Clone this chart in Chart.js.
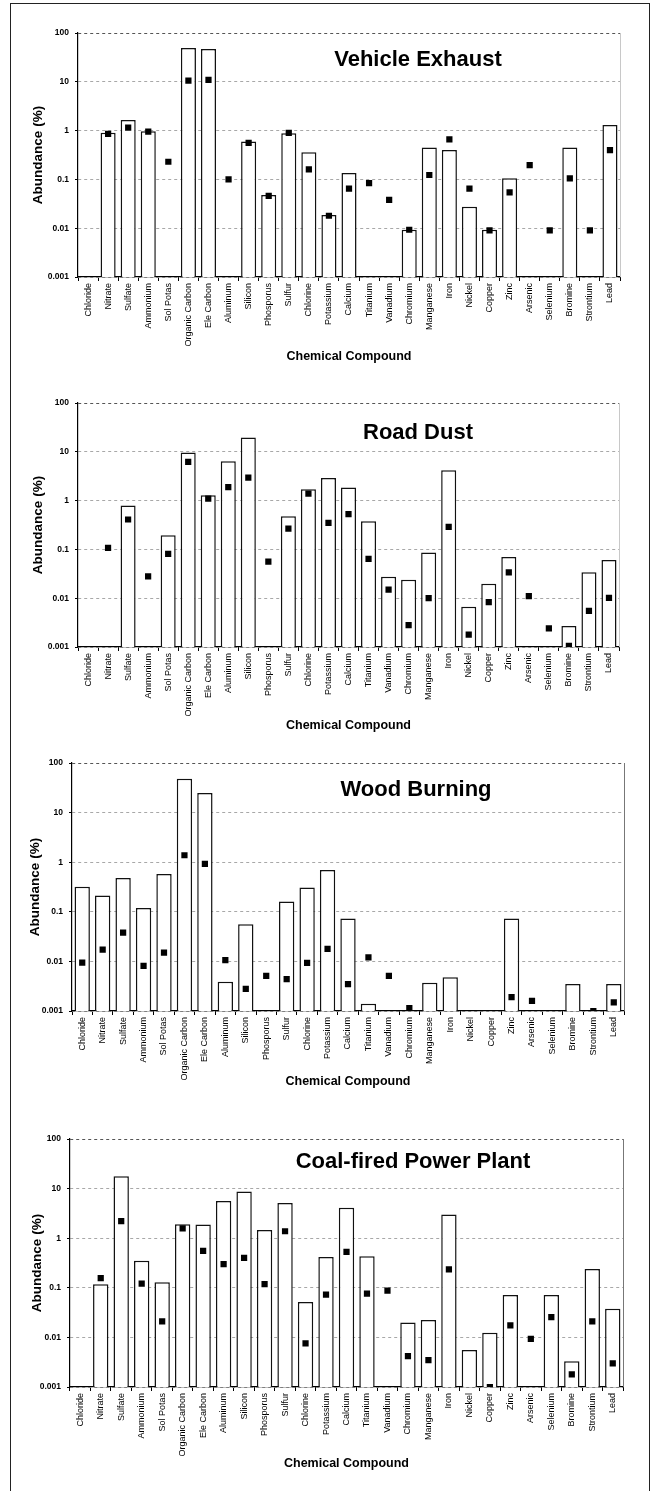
<!DOCTYPE html>
<html><head><meta charset="utf-8">
<script src="https://cdn.jsdelivr.net/npm/chart.js@4/dist/chart.umd.min.js"></script>
<style>
html,body{margin:0;padding:0;background:#fff;}
#wrap{position:relative;width:654px;height:1491px;overflow:hidden;background:#fff;}
#frame{position:absolute;left:10px;top:3px;width:638px;height:1500px;border:1.5px solid #222;border-bottom:none;}
canvas{position:absolute;left:0;}
</style></head><body>
<div id="wrap"><div id="frame"></div>
<canvas id="c1" width="654" height="370" style="top:0px;width:654px;height:370px"></canvas>
<canvas id="c2" width="654" height="370" style="top:370px;width:654px;height:370px"></canvas>
<canvas id="c3" width="654" height="370" style="top:740px;width:654px;height:370px"></canvas>
<canvas id="c4" width="654" height="381" style="top:1110px;width:654px;height:381px"></canvas>
</div>
<script>
// ---------- data ----------
const categories = ["Chloride","Nitrate","Sulfate","Ammonium","Sol Potas","Organic Carbon","Ele Carbon","Aluminum","Silicon","Phosporus","Sulfur","Chlorine","Potassium","Calcium","Titanium","Vanadium","Chromium","Manganese","Iron","Nickel","Copper","Zinc","Arsenic","Selenium","Bromine","Strontium","Lead"];
const yTickValues = [0.001, 0.01, 0.1, 1, 10, 100];
const yTickLabels = ["0.001","0.01","0.1","1","10","100"];
const panelTitles = ["Vehicle Exhaust","Road Dust","Wood Burning","Coal-fired Power Plant"];

const vehicleBars   = [null,0.9,1.65,0.97,null,49,47,null,0.6,0.048,0.88,0.36,0.0186,0.135,null,null,0.0093,0.45,0.40,0.0275,0.0093,0.105,null,null,0.45,null,1.3];
const vehiclePoints = [null,0.86,1.15,0.95,0.23,10.6,11,0.1,0.56,0.046,0.9,0.16,0.018,0.065,0.084,0.038,0.0093,0.123,0.66,0.065,0.009,0.054,0.197,0.009,0.105,0.009,0.40];

const roadBars   = [null,null,0.79,null,0.194,9.7,1.29,6.4,19.7,null,0.48,1.71,2.92,1.85,0.376,0.0274,0.024,0.086,4.2,0.0067,0.0197,0.07,null,null,0.0027,0.034,0.061];
const roadPoints = [null,0.108,0.41,0.028,0.081,6.2,1.1,1.88,2.97,0.056,0.266,1.39,0.35,0.53,0.064,0.015,0.0028,0.01,0.288,0.0018,0.0083,0.034,0.011,0.0024,0.00105,0.0055,0.0102];

const woodBars   = [0.32,0.214,0.48,0.119,0.58,48,24.9,0.0039,0.056,null,0.161,0.31,0.70,0.073,0.0014,null,null,0.0037,0.0048,null,null,0.073,null,null,0.0035,null,0.0035];
const woodPoints = [0.0094,0.0172,0.038,0.0081,0.015,1.38,0.925,0.0106,0.0028,0.0051,0.0044,0.0093,0.0178,0.0035,0.012,0.0051,0.00115,null,null,null,null,0.0019,0.0016,null,null,0.001,0.0015];

const coalBars   = [null,0.118,17.7,0.35,0.13,1.91,1.88,5.6,8.7,1.47,5.1,0.052,0.42,4.1,0.435,null,0.0199,0.0224,3.0,0.0056,0.0124,0.072,null,0.072,0.0033,0.24,0.038];
const coalPoints = [null,0.157,2.2,0.122,0.021,1.57,0.556,0.30,0.40,0.119,1.38,0.0076,0.073,0.53,0.076,0.088,0.0042,0.0035,0.235,null,0.001,0.0175,0.0093,0.0257,0.0018,0.021,0.003];

const barSeries = [vehicleBars, roadBars, woodBars, coalBars];
const pointSeries = [vehiclePoints, roadPoints, woodPoints, coalPoints];

// ---------- layout (pixel geometry per panel, local to each canvas) ----------
const layouts = [
  {id:'c1', H:370, left:78, right:34, top:33, xH:93,  yTitlePad:30, xTitlePad:6,  tx:418, ty:60, rightColor:'#c8c8c8'},
  {id:'c2', H:370, left:78, right:35, top:33, xH:93,  yTitlePad:30, xTitlePad:7,  tx:418, ty:63, rightColor:'#c8c8c8'},
  {id:'c3', H:370, left:72, right:30, top:23, xH:99,  yTitlePad:27, xTitlePad:21, tx:416, ty:50, rightColor:'#777'},
  {id:'c4', H:381, left:70, right:31, top:29, xH:104, yTitlePad:29, xTitlePad:20, tx:413, ty:52, rightColor:'#777'}
];

const FONT = "'Liberation Sans', Arial, Helvetica, sans-serif";
Chart.defaults.font.family = FONT;
Chart.defaults.color = '#000';

const deco = {
  id: 'deco',
  afterDraw(chart, args, opts) {
    const {ctx, chartArea: a} = chart;
    ctx.save();
    ctx.strokeStyle = opts.rightColor;
    ctx.lineWidth = 1;
    ctx.beginPath();
    ctx.moveTo(a.right + 0.5, a.top);
    ctx.lineTo(a.right + 0.5, a.bottom);
    ctx.stroke();
    ctx.fillStyle = '#000';
    ctx.font = 'bold 22px ' + FONT;
    ctx.textAlign = 'center';
    ctx.textBaseline = 'middle';
    ctx.fillText(opts.title, opts.tx, opts.ty);
    ctx.restore();
  }
};

layouts.forEach((L, i) => {
  new Chart(document.getElementById(L.id), {
    type: 'bar',
    data: {
      labels: categories,
      datasets: [
        {
          type: 'line',
          label: 'points',
          data: pointSeries[i],
          showLine: false,
          pointStyle: 'rect',
          pointRadius: 4.4,
          pointBackgroundColor: '#000',
          pointBorderColor: '#000',
          pointBorderWidth: 0,
          order: 0
        },
        {
          type: 'bar',
          label: 'bars',
          data: barSeries[i],
          backgroundColor: '#fff',
          borderColor: '#111',
          borderWidth: 1.5,
          barPercentage: 0.75,
          categoryPercentage: 1.0,
          order: 1
        }
      ]
    },
    options: {
      responsive: false,
      animation: false,
      devicePixelRatio: 1,
      layout: { padding: { left: 0, right: L.right, top: L.top, bottom: 0 } },
      plugins: {
        legend: { display: false },
        tooltip: { enabled: false },
        deco: { title: panelTitles[i], tx: L.tx, ty: L.ty, rightColor: L.rightColor }
      },
      scales: {
        x: {
          type: 'category',
          offset: true,
          grid: { display: true, drawOnChartArea: false, drawTicks: true, tickLength: 4, color: '#000', tickColor: '#000', offset: true },
          border: { display: true, color: '#000', width: 1.2 },
          ticks: { autoSkip: false, minRotation: 90, maxRotation: 90, padding: 2, font: { size: 9 }, color: '#000' },
          title: { display: true, text: 'Chemical Compound', font: { size: 12.5, weight: 'bold' }, color: '#000', padding: { top: 0, bottom: L.xTitlePad } },
          afterFit: (s) => { s.height = L.xH; }
        },
        y: {
          type: 'logarithmic',
          min: 0.001,
          max: 100,
          afterBuildTicks: (s) => { s.ticks = yTickValues.map(v => ({ value: v, major: true })); },
          grid: {
            display: true,
            drawTicks: true,
            tickLength: 3,
            tickColor: '#000',
            lineWidth: 1,
            color: (c) => (c.tick && c.tick.value === 100) ? '#555' : '#a8a8a8'
          },
          border: { display: true, color: '#000', width: 1.2, dash: [3, 3] },
          ticks: {
            padding: 6,
            font: { size: 8.5, weight: 'bold' },
            color: '#000',
            callback: (v, idx) => yTickLabels[idx]
          },
          title: { display: true, text: 'Abundance (%)', font: { size: 13.5, weight: 'bold' }, color: '#000', padding: { top: L.yTitlePad, bottom: 0 } },
          afterFit: (s) => { s.width = L.left; }
        }
      }
    },
    plugins: [deco]
  });
});
</script>
</body></html>
